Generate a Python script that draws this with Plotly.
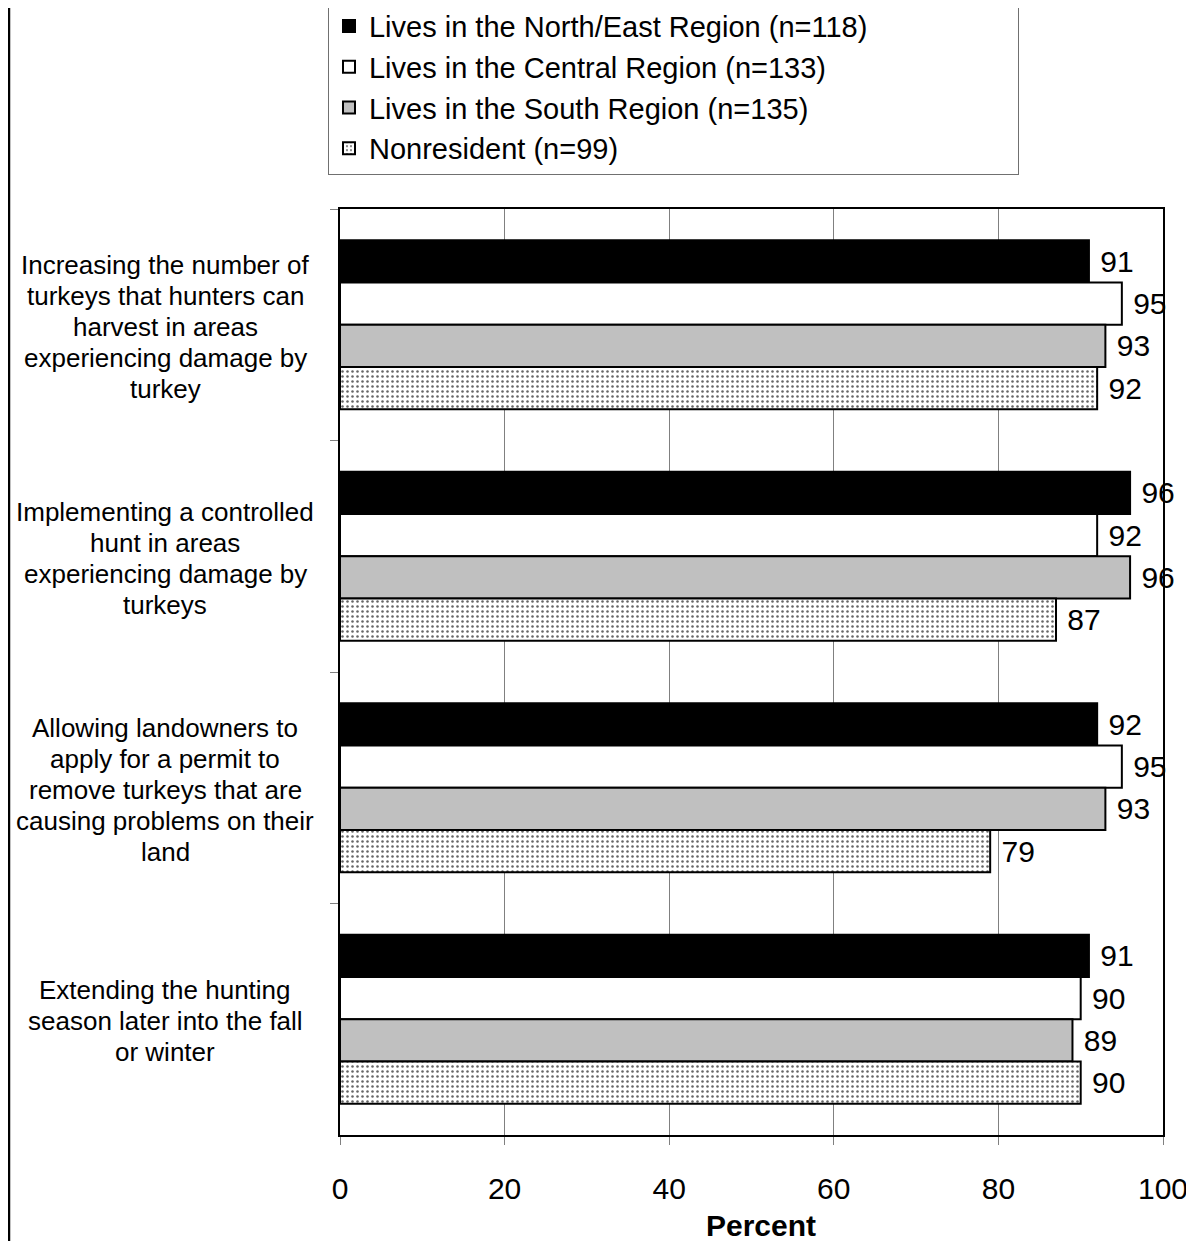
import plotly.graph_objects as go

categories = [
    "Increasing the number of<br>turkeys that hunters can<br>harvest in areas<br>experiencing damage by<br>turkey",
    "Implementing a controlled<br>hunt in areas<br>experiencing damage by<br>turkeys",
    "Allowing landowners to<br>apply for a permit to<br>remove turkeys that are<br>causing problems on their<br>land",
    "Extending the hunting<br>season later into the fall<br>or winter",
]
series_names = [
    "Lives in the North/East Region (n=118)",
    "Lives in the Central Region (n=133)",
    "Lives in the South Region (n=135)",
    "Nonresident (n=99)",
]
north_east = [91, 96, 92, 91]
central = [95, 92, 95, 90]
south = [93, 96, 93, 89]
nonresident = [92, 87, 79, 90]
x_ticks = [0, 20, 40, 60, 80, 100]

FONT = "Arial, Liberation Sans, Helvetica, sans-serif"
LEGEND_PAD = "\u00a0" * 18  # widens the legend box like the reference

fig = go.Figure()
series = [north_east, central, south, nonresident]
fills = ["black", "white", "#c0c0c0", "white"]
for i, (name, vals, fill) in enumerate(zip(series_names, series, fills)):
    marker = dict(color=fill, line=dict(color="black", width=2))
    if i == 3:
        marker["pattern"] = dict(shape=".", fgcolor="#666666", bgcolor="white",
                                 size=5, solidity=0.2, fillmode="replace")
    fig.add_trace(go.Bar(
        y=categories, x=vals, orientation="h",
        name=name + (LEGEND_PAD if i == 0 else ""),
        marker=marker, text=[" " + str(v) for v in vals],
        textposition="outside", cliponaxis=False, constraintext="none",
        textfont=dict(size=30, color="black", family=FONT),
        legendgroup=f"g{i}",
    ))

# category labels, centred, one annotation per line for tight line spacing
LINE_SP = 31
for cat in categories:
    lines = cat.split("<br>")
    n = len(lines)
    for k, ln in enumerate(lines):
        fig.add_annotation(x=-0.2126, xref="paper", y=cat, yref="y", text=ln,
                           showarrow=False, xanchor="center", yanchor="middle",
                           yshift=((n - 1) / 2 - k) * LINE_SP - 2,
                           font=dict(size=26, color="black", family=FONT))

# x-axis title
fig.add_annotation(x=0.512, xref="paper", y=-0.0972, yref="paper", text="<b>Percent</b>",
                   showarrow=False, xanchor="center", yanchor="middle",
                   font=dict(size=30, color="black", family=FONT))

# outer chart border (left edge)
fig.add_shape(type="line", xref="paper", yref="paper", x0=-0.4025, x1=-0.4025,
              y0=-0.2, y1=1.3, line=dict(color="black", width=3))

fig.update_layout(
    width=1186, height=1233,
    margin=dict(l=332, r=31, t=201, b=106, autoexpand=False),
    paper_bgcolor="white", plot_bgcolor="white",
    barmode="group", bargap=0.27, bargroupgap=0,
    font=dict(family=FONT, color="black"),
    showlegend=True,
    legend=dict(x=-0.0146, xanchor="left", y=1.226, yanchor="top",
                bordercolor="#707070", borderwidth=1, bgcolor="white",
                font=dict(size=29, family=FONT, color="black"),
                tracegroupgap=0, traceorder="normal"),
    xaxis=dict(range=[0, 100], tickvals=x_ticks, ticktext=[str(t) for t in x_ticks],
               showgrid=True, gridcolor="#808080", gridwidth=1,
               ticks="outside", ticklen=8, tickcolor="#808080",
               ticklabelstandoff=18,
               showline=True, linecolor="black", linewidth=2, mirror=True,
               tickfont=dict(size=30, family=FONT, color="black"),
               zeroline=False),
    yaxis=dict(type="category", categoryorder="array", categoryarray=categories,
               autorange="reversed", showticklabels=False,
               ticks="outside", tickson="boundaries", ticklen=8, tickcolor="#808080",
               showgrid=False, showline=True, linecolor="black", linewidth=2, mirror=True),
)

fig.write_html("out.html")
